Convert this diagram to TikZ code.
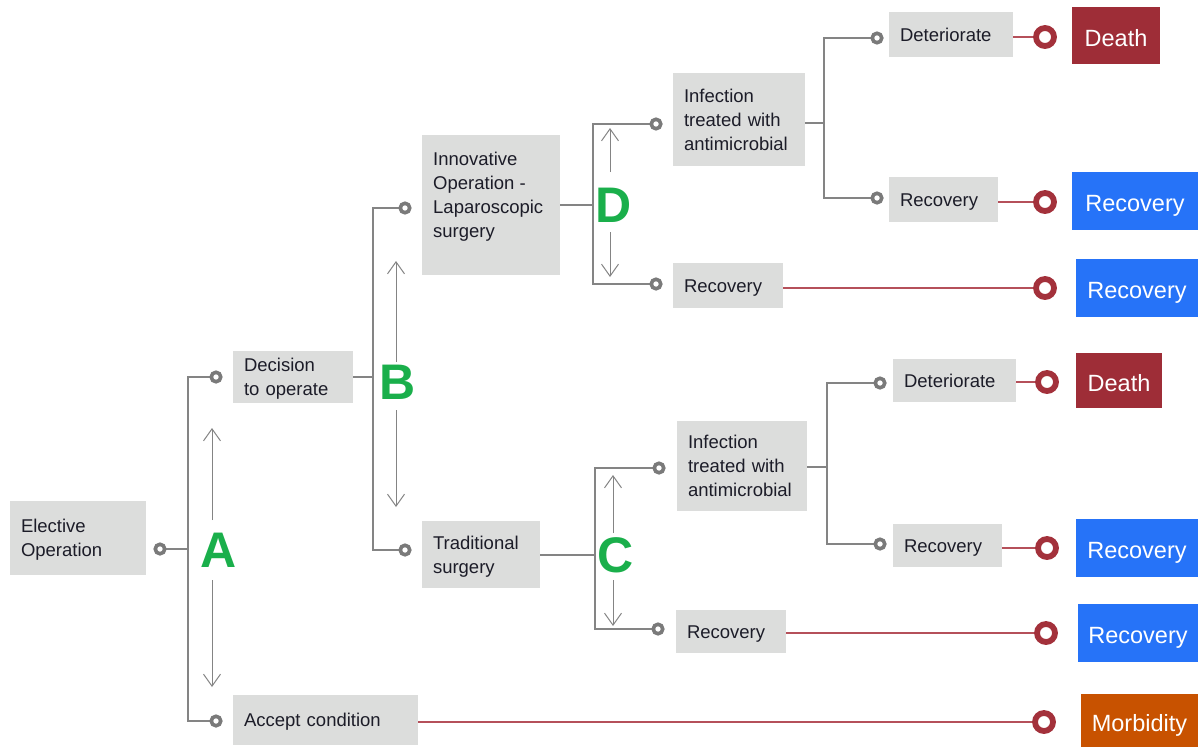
\documentclass[tikz,border=0pt]{standalone}
\usepackage{fontspec}
\setmainfont{Liberation Sans}
\usetikzlibrary{arrows.meta}
\definecolor{boxgray}{HTML}{DCDDDC}
\definecolor{linegray}{HTML}{848484}
\definecolor{dotgray}{HTML}{7A7A7A}
\definecolor{ringred}{HTML}{A3313B}
\definecolor{redline}{HTML}{B5505A}
\definecolor{deathred}{HTML}{9E2D37}
\definecolor{recblue}{HTML}{2673F8}
\definecolor{morbor}{HTML}{C85200}
\definecolor{lettergreen}{HTML}{1AAF4B}
\definecolor{txt}{HTML}{1C1C28}
\tikzset{
  gbox/.style={fill=boxgray, inner sep=0pt, align=left, text=txt,
    font=\fontsize{18.5}{24}\selectfont,
    execute at begin node=\rule{0pt}{18pt},
    execute at end node=\rule[-5pt]{0pt}{0pt}},
  cbox/.style={inner sep=0pt, text=white, font=\fontsize{23.5}{28}\selectfont,
    text height=21pt, text depth=0pt},
  gdot/.style={circle, draw=dotgray, fill=white, line width=3.6pt, minimum size=9.5pt, inner sep=0pt},
  rring/.style={circle, draw=ringred, fill=white, line width=5.8pt, minimum size=18pt, inner sep=0pt},
  gline/.style={draw=linegray, line width=1.8pt},
  rline/.style={draw=redline, line width=1.8pt},
  letter/.style={text=lettergreen, font=\fontsize{50}{52}\selectfont\bfseries, inner sep=0pt},
  arr/.style={draw=linegray, line width=1pt, -{Straight Barb[length=12pt,width=17pt]}}
}
\begin{document}
\begin{tikzpicture}[x=1pt,y=-1pt]
\path[use as bounding box] (0,0) rectangle (1198,747);

% gray boxes
\node[gbox, minimum width=136pt, minimum height=74pt, text width=114pt] (elec) at (78,538) {Elective\\Operation};
\node[gbox, minimum width=120pt, minimum height=52pt, text width=98pt] (dec) at (293,377) {Decision\\to operate};
\node[fill=boxgray, inner sep=0pt, minimum width=138pt, minimum height=140pt] (inno) at (491,205) {};
\node[align=left, text=txt, font=\fontsize{18.5}{24}\selectfont, inner sep=0pt, anchor=west] (innot) at (433,196.5) {Innovative\\Operation -\\Laparoscopic\\surgery};
\node[gbox, minimum width=118pt, minimum height=67pt, text width=96pt] (trad) at (481,554.5) {Traditional\\surgery};
\node[gbox, minimum width=185pt, minimum height=50pt, text width=163pt] (acc) at (325.5,720) {Accept condition};
\node[gbox, minimum width=132pt, minimum height=93pt, text width=110pt] (inf1) at (739,119.5) {Infection\\treated with\\antimicrobial};
\node[gbox, minimum width=110pt, minimum height=45pt, text width=88pt] (recD) at (728,285.5) {Recovery};
\node[gbox, minimum width=130pt, minimum height=90pt, text width=108pt] (inf2) at (742,466) {Infection\\treated with\\antimicrobial};
\node[gbox, minimum width=110pt, minimum height=43pt, text width=88pt] (recC) at (731,631.5) {Recovery};
\node[gbox, minimum width=124pt, minimum height=45pt, text width=102pt] (det1) at (951,34.5) {Deteriorate};
\node[gbox, minimum width=109pt, minimum height=45pt, text width=87pt] (rec1s) at (943.5,199.5) {Recovery};
\node[gbox, minimum width=123pt, minimum height=43pt, text width=101pt] (det2) at (954.5,380.5) {Deteriorate};
\node[gbox, minimum width=109pt, minimum height=43pt, text width=87pt] (rec2s) at (947.5,545.5) {Recovery};

% coloured outcome boxes
\node[cbox, fill=deathred, minimum width=88pt, minimum height=57pt] (death1) at (1116,35.5) {Death};
\node[cbox, fill=recblue, minimum width=126pt, minimum height=58pt] (rec1) at (1135,201) {Recovery};
\node[cbox, fill=recblue, minimum width=122pt, minimum height=58pt] (rec2) at (1137,288) {Recovery};
\node[cbox, fill=deathred, minimum width=86pt, minimum height=55pt] (death2) at (1119,380.5) {Death};
\node[cbox, fill=recblue, minimum width=122pt, minimum height=58pt] (rec3) at (1137,548) {Recovery};
\node[cbox, fill=recblue, minimum width=120pt, minimum height=58pt] (rec4) at (1138,633) {Recovery};
\node[cbox, fill=morbor, minimum width=117pt, minimum height=53pt] (morb) at (1139.5,720.5) {Morbidity};

% junction coordinates
\coordinate (jA) at (188,549);
\coordinate (jB) at (373,377);
\coordinate (jD) at (593,205);
\coordinate (jC) at (595,555);
\coordinate (jT) at (824,123);
\coordinate (jL) at (827,467);

% gray dots positions
\coordinate (pd0) at (160,549);
\coordinate (pdDec) at (216,377);
\coordinate (pdAcc) at (216,721);
\coordinate (pdInno) at (405,208);
\coordinate (pdTrad) at (405,550);
\coordinate (pdInf1) at (656,124);
\coordinate (pdRecD) at (656,284);
\coordinate (pdInf2) at (659,468);
\coordinate (pdRecC) at (658,629);
\coordinate (pdDet1) at (877,38);
\coordinate (pdRec1) at (877,198);
\coordinate (pdDet2) at (880,383);
\coordinate (pdRec2) at (880,544);

% gray tree lines
\draw[gline] (pdDec) -| (jA) |- (pdAcc);
\draw[gline] (pd0) -- (jA);
\draw[gline] (pdInno) -| (jB) |- (pdTrad);
\draw[gline] (dec.east) -- (jB);
\draw[gline] (pdInf1) -| (jD) |- (pdRecD);
\draw[gline] (inno.east) -- (jD);
\draw[gline] (pdInf2) -| (jC) |- (pdRecC);
\draw[gline] (trad.east |- jC) -- (jC);
\draw[gline] (pdDet1) -| (jT) |- (pdRec1);
\draw[gline] (inf1.east |- jT) -- (jT);
\draw[gline] (pdDet2) -| (jL) |- (pdRec2);
\draw[gline] (inf2.east |- jL) -- (jL);

% gray dots
\foreach \p in {d0,dDec,dAcc,dInno,dTrad,dInf1,dRecD,dInf2,dRecC,dDet1,dRec1,dDet2,dRec2}
  \node[gdot] (\p) at (p\p) {};

% red rings
\node[rring] (r1) at (1045,37) {};
\node[rring] (r2) at (1045,202) {};
\node[rring] (r3) at (1045,288) {};
\node[rring] (r4) at (1047,382) {};
\node[rring] (r5) at (1047,548) {};
\node[rring] (r6) at (1046,633) {};
\node[rring] (r7) at (1044,722) {};

% red lines
\draw[rline] (det1.east |- r1) -- (r1.west);
\draw[rline] (rec1s.east |- r2) -- (r2.west);
\draw[rline] (recD.east |- r3) -- (r3.west);
\draw[rline] (det2.east |- r4) -- (r4.west);
\draw[rline] (rec2s.east |- r5) -- (r5.west);
\draw[rline] (recC.east |- r6) -- (r6.west);
\draw[rline] (acc.east |- r7) -- (r7.west);

% letters
\node[letter] (A) at (219,550) {A};
\node[letter] (B) at (398,382) {B};
\node[letter] (D) at (614,205) {D};
\node[letter] (C) at (616,555) {C};

% double arrows
\coordinate (aA1) at (212,520); \coordinate (aA2) at (212,428);
\coordinate (aA3) at (212,580); \coordinate (aA4) at (212,687);
\coordinate (aB1) at (396,362); \coordinate (aB2) at (396,261);
\coordinate (aB3) at (396,410); \coordinate (aB4) at (396,507);
\coordinate (aD1) at (610,172); \coordinate (aD2) at (610,128);
\coordinate (aD3) at (610,232); \coordinate (aD4) at (610,277);
\coordinate (aC1) at (613,533); \coordinate (aC2) at (613,475);
\coordinate (aC3) at (613,580); \coordinate (aC4) at (613,626);
\foreach \l in {A,B,C,D} {
  \draw[arr] (a\l1) -- (a\l2);
  \draw[arr] (a\l3) -- (a\l4);
}
\end{tikzpicture}
\end{document}
